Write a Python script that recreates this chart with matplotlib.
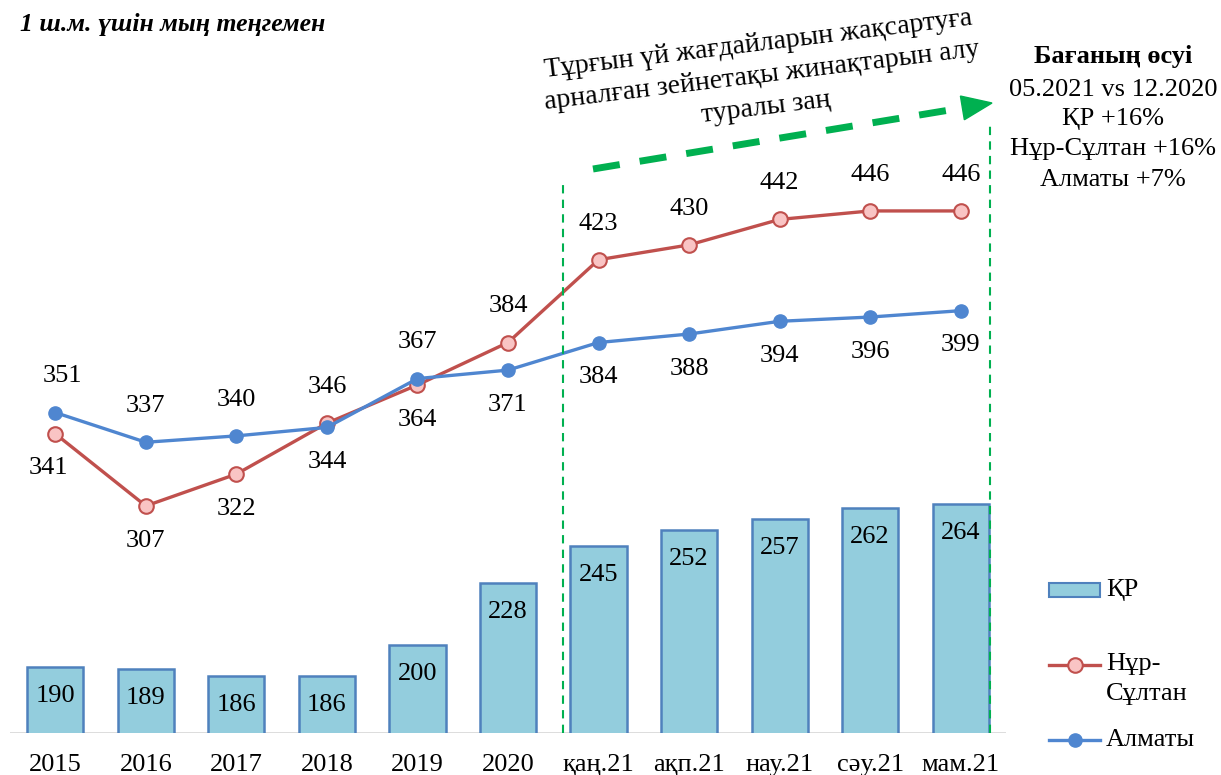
import numpy as np
import matplotlib.pyplot as plt
from matplotlib.lines import Line2D
from matplotlib.patches import Rectangle, Polygon

plt.rcParams['font.family'] = ['Liberation Serif', 'DejaVu Serif']

# данные
periods = ['2015', '2016', '2017', '2018', '2019', '2020',
           'қаң.21', 'ақп.21', 'нау.21', 'сәу.21', 'мам.21']
kr = [190, 189, 186, 186, 200, 228, 245, 252, 257, 262, 264]
nur_sultan = [341, 307, 322, 346, 364, 384, 423, 430, 442, 446, 446]
almaty = [351, 337, 340, 344, 367, 371, 384, 388, 394, 396, 399]

growth_title = 'Бағаның өсуі'
growth_lines = ['05.2021 vs 12.2020', 'ҚР +16%', 'Нұр-Сұлтан +16%', 'Алматы +7%']
law_text = 'Тұрғын үй жағдайларын жақсартуға\nарналған зейнетақы жинақтарын алу\nтуралы заң'

bar_face = '#93cddd'
bar_edge = '#4f81bd'
red = '#c0504d'
pink = '#f9c4c4'
blue = '#4f86d0'
green = '#00b050'

W, H = 1221, 775
fig = plt.figure(figsize=(W / 100, H / 100), dpi=100)
ax = fig.add_axes([10 / W, 42 / H, 996 / W, 573 / H])
ax2 = ax.twinx()


def px(xp, yp):
    # пиксели картинки -> доли фигуры
    return xp / W, (H - yp) / H


x = np.arange(len(periods))

# столбцы ҚР
ax.bar(x, kr, width=0.62, color=bar_face, edgecolor=bar_edge, linewidth=1.8, zorder=2)
for xi, v in zip(x, kr):
    ax.annotate(str(v), (xi, v), xytext=(0, -21), textcoords='offset points',
                ha='center', va='center', fontsize=19)
ax.set_ylim(160, 420)
ax.set_xlim(-0.5, 10.5)

# линии
ax2.plot(x, nur_sultan, color=red, lw=2.4, marker='o', ms=10.5,
         mfc=pink, mec=red, mew=1.5, zorder=3)
ax2.plot(x, almaty, color=blue, lw=2.4, marker='o', ms=9.5,
         mfc=blue, mec=blue, zorder=4)
ax2.set_ylim(200, 470)

al_up = [True, True, True, False, True, False, False, False, False, False, False]
for xi, a, n, up in zip(x, almaty, nur_sultan, al_up):
    da = 26 if up else -25
    ax2.annotate(str(a), (xi, a), xytext=(5 if xi == 0 else 0, da), textcoords='offset points',
                 ha='center', va='center', fontsize=19)
    ax2.annotate(str(n), (xi, n), xytext=(-5 if xi == 0 else 0, -da + 1), textcoords='offset points',
                 ha='center', va='center', fontsize=19)

for a in (ax, ax2):
    a.set_yticks([])
    for s in ('top', 'left', 'right', 'bottom'):
        a.spines[s].set_visible(False)
ax.axhline(160, color='#d9d9d9', lw=2, zorder=1)

ax.set_xticks(x)
ax.set_xticklabels(periods, fontsize=19)
ax.tick_params(axis='x', length=0, pad=15)

# зелёные пунктирные линии
for xp, ytop in ((563, 185), (990, 123)):
    fig.add_artist(Line2D([xp / W, xp / W], [42 / H, (H - ytop) / H], color=green,
                          lw=1.5, ls=(0, (4, 3))))

# стрелка
tip = np.array([992.0, 103.0])
start = np.array([593.0, 169.0])
d = (tip - start) / np.linalg.norm(tip - start)
perp = np.array([-d[1], d[0]])
base = tip - 30 * d
fig.add_artist(Line2D(*zip(px(*start), px(*base)), color=green, lw=5,
                      ls=(0, (3.9, 2.9)), dash_capstyle='butt'))
fig.add_artist(Polygon([px(*tip), px(*(base + 12 * perp)), px(*(base - 12 * perp))],
                       closed=True, color=green, transform=fig.transFigure))

fig.text(*px(762, 76), law_text, rotation=7, ha='center', va='center',
         multialignment='center', fontsize=20, rotation_mode='anchor', linespacing=1.35)

# рост цен
fig.text(*px(1113, 56), growth_title, ha='center', va='center',
         fontsize=19, fontweight='bold')
for yp, t in zip((90, 119, 149, 180), growth_lines):
    fig.text(*px(1113, yp), t, ha='center', va='center', fontsize=19)

fig.text(*px(20, 24), '1 ш.м. үшін мың теңгемен', ha='left', va='center',
         fontsize=18.5, fontweight='bold', fontstyle='italic')

# легенда
fig.add_artist(Rectangle(px(1049, 597), 51 / W, 14 / H, facecolor=bar_face,
                         edgecolor=bar_edge, lw=1.5, transform=fig.transFigure))
fig.text(*px(1106, 590), 'ҚР', ha='left', va='center', fontsize=19)
fig.add_artist(Line2D([1049 / W, 1100 / W], [(H - 665) / H] * 2, color=red, lw=2.4))
fig.add_artist(Line2D([1074.5 / W], [(H - 665) / H], marker='o', ms=10.5,
                      mfc=pink, mec=red, mew=1.5))
fig.text(*px(1106, 653), 'Нұр-\nСұлтан', ha='left', va='top', fontsize=19,
         linespacing=1.45)
fig.add_artist(Line2D([1049 / W, 1100 / W], [(H - 740) / H] * 2, color=blue, lw=2.4))
fig.add_artist(Line2D([1074.5 / W], [(H - 740) / H], marker='o', ms=9.5,
                      mfc=blue, mec=blue))
fig.text(*px(1106, 740), 'Алматы', ha='left', va='center', fontsize=19)

fig.savefig('out.png', dpi=100)
